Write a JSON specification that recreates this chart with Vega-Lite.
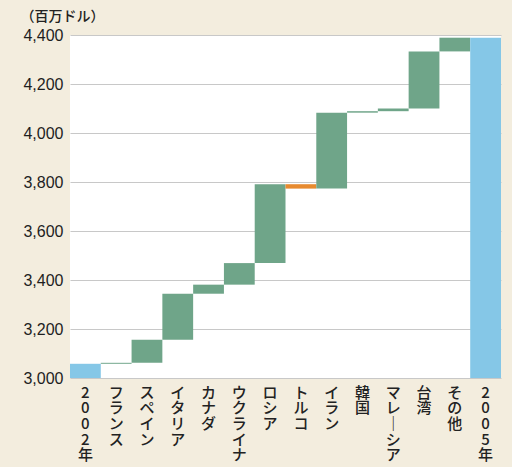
{
  "$schema": "https://vega.github.io/schema/vega-lite/v6.json",
  "width": 431,
  "height": 343,
  "autosize": "none",
  "padding": {"left": 70, "top": 35, "right": 11, "bottom": 89},
  "background": "#F3EDDE",
  "view": {"fill": "white", "stroke": null},
  "data": {
    "values": [
      {"国": "2002年", "start": 3000, "end": 3058, "type": "total"},
      {"国": "フランス", "start": 3058, "end": 3062, "type": "increase"},
      {"国": "スペイン", "start": 3062, "end": 3156, "type": "increase"},
      {"国": "イタリア", "start": 3156, "end": 3344, "type": "increase"},
      {"国": "カナダ", "start": 3344, "end": 3381, "type": "increase"},
      {"国": "ウクライナ", "start": 3381, "end": 3469, "type": "increase"},
      {"国": "ロシア", "start": 3469, "end": 3791, "type": "increase"},
      {"国": "トルコ", "start": 3791, "end": 3773, "type": "decrease"},
      {"国": "イラン", "start": 3773, "end": 4083, "type": "increase"},
      {"国": "韓国", "start": 4083, "end": 4089, "type": "increase"},
      {"国": "マレーシア", "start": 4089, "end": 4100, "type": "increase"},
      {"国": "台湾", "start": 4100, "end": 4333, "type": "increase"},
      {"国": "その他", "start": 4333, "end": 4389, "type": "increase"},
      {"国": "2005年", "start": 3000, "end": 4389, "type": "total"}
    ]
  },
  "mark": {"type": "bar"},
  "encoding": {
    "x": {
      "field": "国",
      "type": "nominal",
      "sort": null,
      "scale": {"paddingInner": 0, "paddingOuter": 0},
      "axis": {
        "title": null,
        "domain": false,
        "ticks": false,
        "labelAngle": 0,
        "labelAlign": "center",
        "labelBaseline": "top",
        "labelPadding": 7,
        "labelFont": "Noto Sans CJK JP",
        "labelFontSize": 15,
        "labelFontWeight": 500,
        "labelLineHeight": 15.7,
        "labelColor": "#222222",
        "labelExpr": "split(replace(datum.label, 'ー', '｜'), '')"
      }
    },
    "y": {
      "field": "start",
      "type": "quantitative",
      "scale": {"domain": [3000, 4400], "nice": false, "zero": false},
      "axis": {
        "title": "（百万ドル）",
        "titleAngle": 0,
        "titleAlign": "left",
        "titleBaseline": "middle",
        "titleX": -50,
        "titleY": -19,
        "titleFont": "Noto Sans CJK JP",
        "titleFontSize": 14,
        "titleFontWeight": 500,
        "titleColor": "#222222",
        "values": [3000, 3200, 3400, 3600, 3800, 4000, 4200, 4400],
        "format": ",d",
        "domain": false,
        "ticks": false,
        "labelPadding": 7,
        "labelFont": "Liberation Sans",
        "labelFontSize": 16,
        "labelColor": "#1e1e1e",
        "grid": true,
        "gridColor": "#c8c8c8",
        "gridWidth": 1.2
      }
    },
    "y2": {"field": "end"},
    "color": {
      "field": "type",
      "type": "nominal",
      "scale": {"domain": ["total", "increase", "decrease"], "range": ["#85C7E7", "#6FA589", "#E78A2F"]},
      "legend": null
    }
  }
}
